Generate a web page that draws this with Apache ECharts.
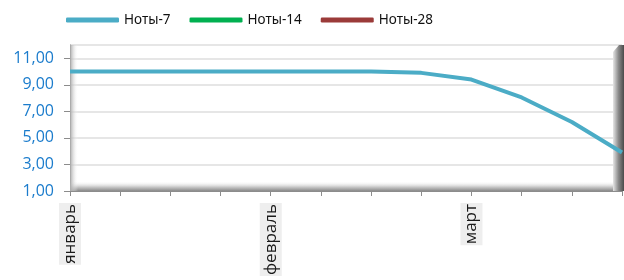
<!DOCTYPE html>
<html>
<head>
<meta charset="utf-8">
<script src="https://cdn.jsdelivr.net/npm/echarts@6/dist/echarts.min.js"></script>
<style>
  html, body { margin: 0; padding: 0; background: #fff; }
  #chart { width: 624px; height: 280px; }
</style>
</head>
<body>
<div id="chart"></div>
<script>
// месяцы по оси X (подпись на каждой 4-й точке)
var categories = ['январь', '', '', '', 'февраль', '', '', '', 'март', '', '', ''];
var seriesNames = ['Ноты-7', 'Ноты-14', 'Ноты-28'];
var notes7 = [10, 10, 10, 10, 10, 10, 10, 9.9, 9.4, 8.05, 6.2, 3.9];
var notes14 = [];
var notes28 = [];
var yTicks = { min: 1, max: 12, interval: 2 };

var myChart = echarts.init(document.getElementById('chart'));

var option = {
    animation: false,
    textStyle: { fontFamily: 'Open Sans' },
    legend: {
        left: 61,
        top: 8,
        itemWidth: 53,
        itemHeight: 5,
        itemGap: 19,
        icon: 'roundRect',
        textStyle: { color: '#111', fontSize: 13.5, fontFamily: 'Noto Sans' },
        data: seriesNames
    },
    grid: {
        left: 70,
        right: 2,
        top: 45,
        bottom: 89,
        containLabel: false,
        outerBoundsMode: 'none'
    },
    xAxis: {
        type: 'category',
        boundaryGap: false,
        data: categories,
        axisLine: { lineStyle: { color: '#8c8c8c', width: 1 } },
        axisTick: { show: true, interval: 0, length: 5, lineStyle: { color: '#8c8c8c' } },
        axisLabel: {
            interval: 3,
            rotate: 90,
            margin: 12,
            color: '#1a1a1a',
            fontSize: 17,
            backgroundColor: '#eeeeee',
            padding: [5, 1, 0, 1]
        },
        splitLine: { show: false }
    },
    yAxis: {
        type: 'value',
        min: yTicks.min,
        max: yTicks.max,
        interval: yTicks.interval,
        axisLine: { show: true, lineStyle: { color: '#8c8c8c' } },
        axisTick: { show: true, length: 6, lineStyle: { color: '#8c8c8c' } },
        axisLabel: {
            showMaxLabel: false,
            color: '#1b7ccc',
            fontSize: 16,
            margin: 16,
            formatter: function (v) { return v.toFixed(2).replace('.', ','); }
        },
        splitLine: { show: true, lineStyle: { color: '#e6e6e6', width: 2 } }
    },
    // "объёмная" рамка области построения, как в Excel
    graphic: {
        elements: [{
            type: 'rect', z: 1, silent: true,
            shape: { x: 70, y: 181, width: 545, height: 10 },
            style: { fill: new echarts.graphic.LinearGradient(0, 0, 0, 1, [
                { offset: 0, color: 'rgba(255,255,255,0)' },
                { offset: 0.6, color: '#c8c8c8' },
                { offset: 1, color: '#8a8a8a' }
            ]) }
        }, {
            type: 'rect', z: 1, silent: true,
            shape: { x: 70, y: 45, width: 8, height: 146 },
            style: { fill: new echarts.graphic.LinearGradient(0, 0, 1, 0, [
                { offset: 0, color: '#a8a8a8' },
                { offset: 1, color: 'rgba(255,255,255,0)' }
            ]) }
        }, {
            type: 'polygon', z: 1, silent: true,
            shape: { points: [[613, 52], [619, 45], [624, 45], [624, 191], [613, 191]] },
            style: { fill: new echarts.graphic.LinearGradient(0, 0, 1, 0, [
                { offset: 0, color: '#e6e6e6' },
                { offset: 0.5, color: '#8a8a8a' },
                { offset: 1, color: '#4a4a4a' }
            ]) }
        }]
    },
    series: [{
        name: seriesNames[0],
        type: 'line',
        data: notes7,
        z: 3,
        showSymbol: false,
        color: '#4bacc6',
        lineStyle: { width: 4, color: '#4bacc6' }
    }, {
        name: seriesNames[1],
        type: 'line',
        data: notes14,
        z: 3,
        showSymbol: false,
        color: '#00b050',
        lineStyle: { width: 4, color: '#00b050' }
    }, {
        name: seriesNames[2],
        type: 'line',
        data: notes28,
        z: 3,
        showSymbol: false,
        color: '#9b3b39',
        lineStyle: { width: 4, color: '#9b3b39' }
    }]
};

option && myChart.setOption(option);
window.addEventListener('resize', () => {
    myChart.resize()
})
</script>
</body>
</html>
